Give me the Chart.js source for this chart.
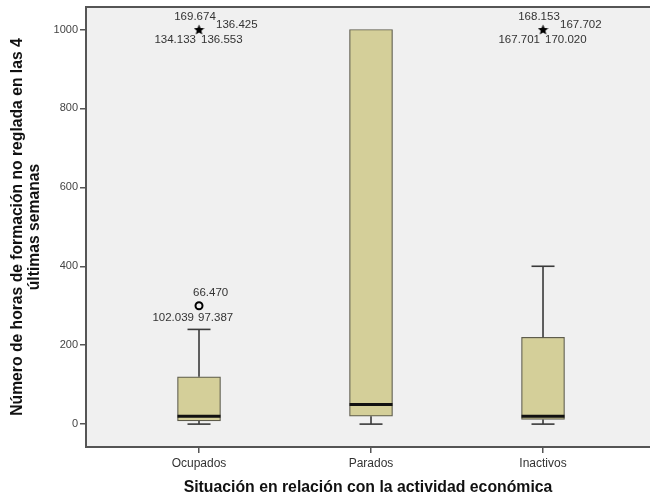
<!DOCTYPE html>
<html>
<head>
<meta charset="utf-8">
<script src="https://cdn.jsdelivr.net/npm/chart.js@4.4.0/dist/chart.umd.min.js"></script>
<style>
html,body{margin:0;padding:0;background:#fff;}
#wrap{width:650px;height:497px;}
</style>
</head>
<body>
<div id="wrap"><canvas id="c" width="650" height="497"></canvas></div>
<script>
// ---- data ----
const categories = ['Ocupados', 'Parados', 'Inactivos'];
const whiskerLow = [0, 0, 0];
const q1 = [8, 20, 12];
const median = [20, 50, 20];
const q3 = [120, 1000, 220];
const whiskerHigh = [240, 1000, 400];
const outlierCat = [0];
const outlierVal = [300];
const outlierLabels = [['66.470', '102.039', '97.387']];
const extremeCat = [0, 2];
const extremeVal = [1000, 1000];
const extremeLabels = [['169.674', '136.425', '134.133', '136.553'], ['168.153', '167.702', '167.701', '170.020']];
const yTicks = [0, 200, 400, 600, 800, 1000];
const yTitle = ['Número de horas de formación no reglada en las 4', 'últimas semanas'];
const xTitle = 'Situación en relación con la actividad económica';

// ---- styles ----
const FONT = "'Liberation Sans', Arial, sans-serif";
const AXIS_COLOR = '#555555';
const BOX_FILL = '#d4cf99';
const BOX_LINE = '#5e5c4c';
const LINE = '#3a3a3a';

function makeStar(size) {
  const cv = document.createElement('canvas');
  cv.width = size; cv.height = size;
  const g = cv.getContext('2d');
  const cx = size / 2, cy = size / 2 + 0.5, R = size / 2, r = R * 0.45;
  g.beginPath();
  for (let i = 0; i < 10; i++) {
    const rad = i % 2 === 0 ? R : r;
    const a = -Math.PI / 2 + i * Math.PI / 5;
    const x = cx + rad * Math.cos(a), y = cy + rad * Math.sin(a);
    if (i === 0) g.moveTo(x, y); else g.lineTo(x, y);
  }
  g.closePath();
  g.fillStyle = '#000';
  g.fill();
  return cv;
}
const starImg = makeStar(11);

const extremeOffsets = [
  {align: 'center', dx: -4, dy: -13},
  {align: 'left', dx: 17, dy: -5},
  {align: 'right', dx: -3, dy: 10},
  {align: 'left', dx: 2, dy: 10}
];
const outlierOffsets = [
  {align: 'left', dx: -6, dy: -13},
  {align: 'right', dx: -5, dy: 12},
  {align: 'left', dx: -1, dy: 12}
];

const bgPlugin = {
  id: 'plotBg',
  beforeDraw(chart) {
    const {ctx, chartArea: a} = chart;
    ctx.save();
    ctx.fillStyle = '#f0f0f0';
    ctx.fillRect(a.left, a.top, a.right - a.left, a.bottom - a.top);
    ctx.strokeStyle = AXIS_COLOR;
    ctx.lineWidth = 2;
    ctx.beginPath();
    ctx.moveTo(a.left, a.top);
    ctx.lineTo(a.right, a.top);
    ctx.stroke();
    ctx.restore();
  }
};

const boxPlugin = {
  id: 'boxExtras',
  afterDatasetsDraw(chart) {
    const {ctx, scales: {x, y}} = chart;
    const capHalf = 11.5, boxHalf = 21.5;
    ctx.save();
    ctx.strokeStyle = LINE;
    ctx.lineWidth = 1.6;
    categories.forEach((c, i) => {
      const px = x.getPixelForValue(i);
      const seg = (a, b) => { ctx.beginPath(); ctx.moveTo(px, y.getPixelForValue(a)); ctx.lineTo(px, y.getPixelForValue(b)); ctx.stroke(); };
      const cap = (v) => { const py = y.getPixelForValue(v); ctx.beginPath(); ctx.moveTo(px - capHalf, py); ctx.lineTo(px + capHalf, py); ctx.stroke(); };
      if (whiskerHigh[i] > q3[i]) { seg(q3[i], whiskerHigh[i]); cap(whiskerHigh[i]); }
      if (whiskerLow[i] < q1[i]) { seg(q1[i], whiskerLow[i]); cap(whiskerLow[i]); }
    });
    ctx.strokeStyle = '#111';
    ctx.lineWidth = 3;
    categories.forEach((c, i) => {
      const px = x.getPixelForValue(i);
      const py = y.getPixelForValue(median[i]);
      ctx.beginPath(); ctx.moveTo(px - boxHalf, py); ctx.lineTo(px + boxHalf, py); ctx.stroke();
    });
    // labels for outliers and extremes
    ctx.font = '11.5px ' + FONT;
    ctx.fillStyle = '#333';
    ctx.textBaseline = 'middle';
    const drawLabels = (dsIndex, labels, offsets) => {
      const meta = chart.getDatasetMeta(dsIndex);
      meta.data.forEach((pt, k) => {
        labels[k].forEach((t, j) => {
          const o = offsets[j];
          ctx.textAlign = o.align;
          ctx.fillText(t, pt.x + o.dx, pt.y + o.dy);
        });
      });
    };
    drawLabels(1, outlierLabels, outlierOffsets);
    drawLabels(2, extremeLabels, extremeOffsets);
    ctx.restore();
  }
};

new Chart(document.getElementById('c'), {
  type: 'bar',
  data: {
    datasets: [
      {
        type: 'bar',
        data: categories.map((c, i) => ({x: i, y: [q1[i], q3[i]]})),
        backgroundColor: BOX_FILL,
        borderColor: BOX_LINE,
        borderWidth: 1.2,
        borderSkipped: false,
        barThickness: 43,
        order: 2
      },
      {
        type: 'scatter',
        data: outlierVal.map((v, i) => ({x: outlierCat[i], y: v})),
        pointStyle: 'circle',
        pointRadius: 3.5,
        borderColor: '#000',
        borderWidth: 2,
        backgroundColor: '#f0f0f0',
        order: 1
      },
      {
        type: 'scatter',
        data: extremeVal.map((v, i) => ({x: extremeCat[i], y: v})),
        pointStyle: starImg,
        order: 1
      }
    ]
  },
  options: {
    responsive: false,
    animation: false,
    devicePixelRatio: 1,
    layout: {autoPadding: false, padding: {top: 7, right: 0, left: 0, bottom: 0}},
    plugins: {legend: {display: false}, tooltip: {enabled: false}},
    scales: {
      x: {
        type: 'linear',
        offset: false,
        min: -0.657,
        max: 2.622,
        afterBuildTicks(s) { s.ticks = categories.map((c, i) => ({value: i})); },
        afterFit(s) { s.height = 50; s.paddingLeft = 0; s.paddingRight = 0; },
        ticks: {
          callback: (v) => categories[v],
          font: {family: FONT, size: 12},
          color: '#333',
          padding: 3,
          maxRotation: 0,
          autoSkip: false
        },
        grid: {offset: false, drawOnChartArea: false, drawTicks: true, tickLength: 6, color: AXIS_COLOR, lineWidth: 1.5},
        border: {display: true, color: AXIS_COLOR, width: 2},
        title: {
          display: true,
          text: xTitle,
          font: {family: FONT, size: 15.8, weight: 'bold'},
          color: '#111',
          padding: {top: 0, bottom: 0}
        }
      },
      y: {
        type: 'linear',
        min: -58,
        max: 1057,
        afterBuildTicks(s) { s.ticks = yTicks.map(v => ({value: v})); },
        afterFit(s) { s.width = 86; s.paddingTop = 0; s.paddingBottom = 0; },
        ticks: {
          callback: (v) => String(v),
          font: {family: FONT, size: 11},
          color: '#444',
          padding: 2
        },
        grid: {drawOnChartArea: false, drawTicks: true, tickLength: 6, color: AXIS_COLOR, lineWidth: 1.5},
        border: {display: true, color: AXIS_COLOR, width: 2},
        title: {
          display: true,
          text: yTitle,
          font: {family: FONT, size: 15.7, weight: 'bold', lineHeight: 1.08},
          color: '#111',
          padding: {top: 9.5, bottom: 0}
        }
      }
    }
  },
  plugins: [bgPlugin, boxPlugin]
});
</script>
</body>
</html>
